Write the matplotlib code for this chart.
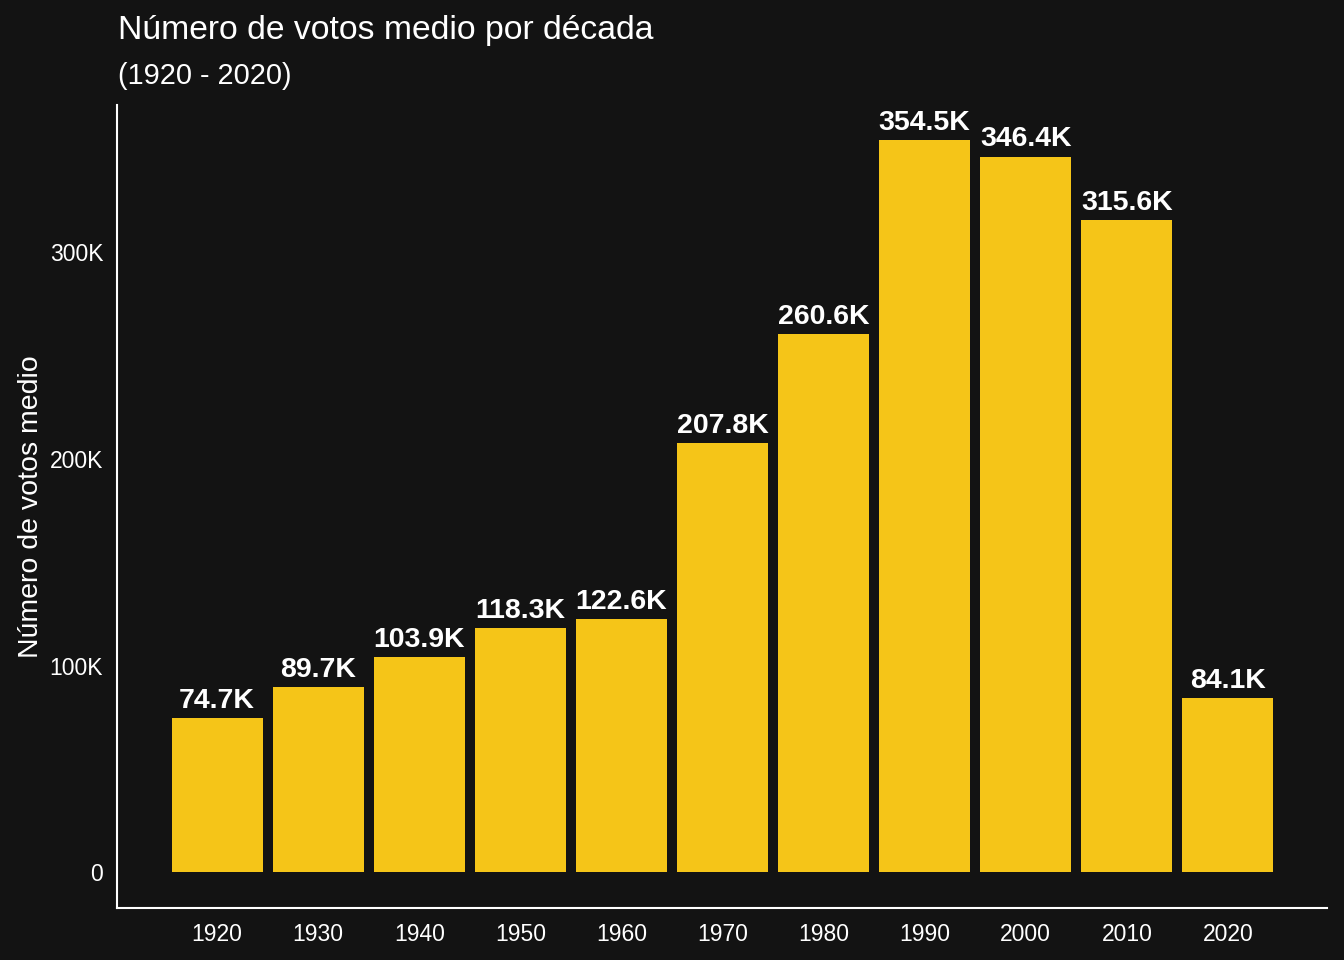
import numpy as np
import matplotlib.pyplot as plt

# media de votos por década (miles)
decadas = ["1920", "1930", "1940", "1950", "1960", "1970", "1980", "1990", "2000", "2010", "2020"]
votos = [74.7, 89.7, 103.9, 118.3, 122.6, 207.8, 260.6, 354.5, 346.4, 315.6, 84.1]
etiquetas = ["74.7K", "89.7K", "103.9K", "118.3K", "122.6K", "207.8K", "260.6K", "354.5K", "346.4K", "315.6K", "84.1K"]

bg = "#131313"
amarillo = "#F5C518"
plt.rcParams['font.family'] = ['Liberation Sans', 'DejaVu Sans']

fig = plt.figure(figsize=(13.44, 9.6), dpi=100, facecolor=bg)
ax = fig.add_axes([117/1344, 52/960, 1210/1344, 803/960])
ax.set_facecolor(bg)

x = np.arange(len(decadas))
v = np.array(votos) * 1000
ax.bar(x, v, width=0.9, color=amarillo)
for xi, vi, lab in zip(x, v, etiquetas):
    ax.annotate(lab, (xi, vi), xytext=(0, 3), textcoords="offset points",
                ha="center", va="bottom", color="white", fontsize=20.5, fontweight="bold")

ax.set_xlim(-0.99, 10.98)
ax.set_ylim(-17400, 371400)
ax.set_xticks(x)
ax.set_xticklabels(decadas)
ax.set_yticks([0, 100000, 200000, 300000])
ax.set_yticklabels(["0", "100K", "200K", "300K"])
ax.tick_params(length=0, colors="white", labelsize=16.5)
ax.tick_params(axis="x", pad=11)
ax.tick_params(axis="y", pad=10)
for s in ["top", "right"]:
    ax.spines[s].set_visible(False)
for s in ["left", "bottom"]:
    ax.spines[s].set_color("white")
    ax.spines[s].set_linewidth(1.5)

ax.set_ylabel("Número de votos medio", color="white", fontsize=20.5, labelpad=4)
fig.text(118/1344, 1 - 31/960, "Número de votos medio por década", color="white",
         fontsize=24.3, va="center", ha="left")
fig.text(118/1344, 1 - 76/960, "(1920 - 2020)", color="white",
         fontsize=20.8, va="center", ha="left")

fig.savefig("out.png", dpi=100, facecolor=bg)
